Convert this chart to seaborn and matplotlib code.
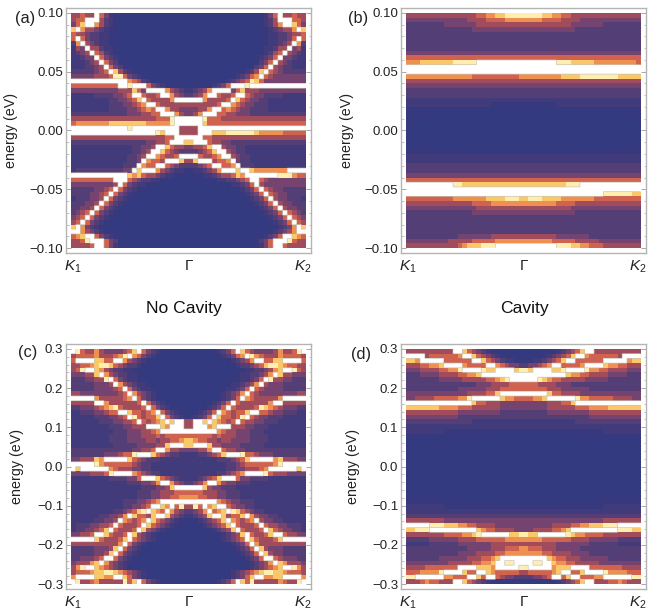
# Band structure maps, cell levels (0 dark .. 9 pale, "." = clipped white)
import numpy as np
import seaborn as sns
import matplotlib.pyplot as plt
from matplotlib.colors import LinearSegmentedColormap

# rows run top to bottom; short rows hold the left half (rest is mirrored), long rows are the whole width
panel_a = [
    "55655.6421", "566...5321", "468..75321", "8.75543211", "65543322110", "6.64332211", "37.543221", "254.553221",
    "2345.65321", "22344.6432", "222345.6431", "2223345.6431", "33333456.85321",
    "4444455569964321000000000" + "000000000" + "1234" + "67." + "654444444",
    "............7653210000000" + "0000000" + "123456" + "986" + "444444444",
    "6666666666..9...643210000" + "0000" + "12346" + "..." + "9" + "............",
    "4444444444555864....75432", "2222233334456..6556..7543", "22222222334456" + "8." + "65555" + "7...",
    "222222223334456" + "7.." + "6555555", "2222222233334456" + "76" + ".." + "75544",
    "3333333333334445" + "566" + "..." + "754", "555555555555555555666" + "9...",
    "677777778888888877777" + "9" + "......" + "8" + "6" + "66666666666666666666",
    "............" + "9" + "........." + "." + "5555" + ".......................",
    ".................." + "98" + "..." + "5555" + "..." + "88899999987777766666",
    "55555555555555555555" + "66" + "...", "33333333333333334455" + "6...8",
    "222222222222233445" + ".." + "86554", "22222222222223345" + ".." + "865433", "2222222222223345" + ".." + "76556..",
    "222222222222334" + "." + "7665" + "..." + "85", "22222222222333" + "." + "766.." + "65433",
    "2333333333344.8...7543221" + "12234" + "57" + "..." + "8.." + "8" + "7777777" + "....",
    "............878" + "6554322110" + "0112234556" + "87" + "......." + "999" + "766",
    "666666666..." + "6543322110000" + "0000112233456" + ".." + "6" + "544444444",
    "4444444445." + "64322110", "333334456." + "6432110", "33334456." + "643211", "2333445." + "64321",
    "333445." + "64321", "33445." + "64321", "3456." + "64321", "456." + "64321", "56." + "64321",
    "8.74321", "..754321", "678..6432110", "5569...6431", "55556..6421",
]
panel_b = [
    "5555555555555556677889999", "4444444444444555566667777", "3333333344444445555555555",
    "3333333333333344444444444", "3333333333333333333333333", "3333333333333333333333333",
    "3333333333333333333333333", "3333333333333333333333333", "4444444444444444444444444",
    "6666666666666666666666666",
    "777888888899999" + "................." + "999888887777777776",
    "." * 50, "." * 50,
    "77777777777777666666666677777777788889999999988888",
    "5555555555555555555555555", "4444444444444444444444444", "3333333333333333333333333",
    "3333333333333333333333333", "2222222222222222222222222", "2222222222222222221111111",
    "1111111111111000000000000", "1111110000000000000000000", "1", "0", "0", "0", "0", "0",
    "1111110000000000000000000", "1111111111111000000000000", "2222222222222222222222222",
    "2222222222222222222222222", "3333333333333333333333333", "3333333333333333333333333",
    "4444444444444444444444444", "6666666666666666666666666",
    ".........." + "998888888888888888888888999" + ".............",
    "." * 50,
    "." * 42 + "99999988",
    "6666666666777777788889998", "5555555555555566667777777", "4444444444444445555555555",
    "3333333333333344444444444", "3333333333333333333333333", "3333333333333333333333333",
    "3333333333333333333333333", "3333333333333333333333333", "3333333333344444445555555",
    "4444444445555566666777777",
    "555555555556" + "7888999" + "............." + "999887766655555555",
]
panel_c = [
    ".96557544445" + "68." + "64321", "566667555679." + "764321", "6....8866..754321",
    "55667" + "8998" + "6543321", "569..87" + "5433221", "444558." + "754332211", "33344559." + "64322110",
    "333334445." + "754322110", "33333444456." + "64322110", "554444444456." + "754321",
    "....." + "75555567." + "64321", "55555.." + "7" + "5555556." + "64321", "3344456789" + "655556." + "64321",
    "2233344566.." + "8" + "665" + "67." + "643211", "222223334456." + "9" + "6566" + "8." + "64321",
    "22222233344556." + "65678." + "8..5", "2222222233344555..." + "87" + "...5", "2222222223334445567" + "......",
    "2222222233334445556" + "566666", "222222223333444455" + "4556678", "22222222233333444455" + "8...8",
    "333333333333344556" + ".." + "75544", "3333333444566" + "9...8" + "6543322", "445558" + "7....." + "8" + "654333222222",
    "....." + "976666" + "66543322222222", ".8......" + "76" + "555443322222222", "44445556" + "9...." + "7" + "65433222222",
    "22222222333344" + "6..." + "8" + "654322", "222222222222333445" + "7.." + "7543", "222222222222222333445" + "8...",
    "2222222222222233344" + "555666", "2222222222222233344" + "556677", "2222222222233344567" + "......",
    "22222222222334456" + ".." + "87." + "695", "22222222233456" + "89." + "876." + "7543",
    "22222233445" + "7.8" + "665" + "8.." + "8" + "5432", "2222233445." + "76567." + "8" + "6543211",
    "233344556." + "6555" + "6." + "8" + "65432110", "2334456" + "8." + "65556." + "8" + "543211",
    "44556.." + "8" + "6556." + "8" + "54321", "....." + "8" + "65556" + "8." + "654321",
    "5555555555" + "7." + "64321", "3333344458." + "64321", "333334458." + "64321", "3344456.." + "64321",
    "455578." + "754321", "579..8" + "7654321", "566678" + "8998" + "76543" + "21", "7....8877..8" + "64321",
    ".95567" + "55555" + "968." + "64321",
]
panel_d = [
    "5555555555.." + "865" + "4321100000", "....5666666" + "7..8" + "6543211", "887....." + "666666..8" + "65432211",
    "55566778" + "...." + "76666.." + "7" + "65443", "44455556677" + "9....988....89", "3334444555566778" + ".........",
    "3333333444445555566" + "789...", "3333333333333334445555666", "3333333333344444455566666",
    "4444444444444555566" + "8.....", "4455556666677" + "9......8" + "7766", ".............." + "8" + "6655544444",
    "8888888777766655555544444", "5555555555544444444433333", "4444444444433333333333333",
    "3333333333333322222222222", "2222222222222222222222222", "2222222211111111111111111", "1111111111111111100000000",
    "0", "0", "0", "0", "0", "0", "0", "0", "0", "0", "0", "0",
    "1111111111", "1111111111111111100000000", "2222222211111111111111111",
    "2222222222222222222222222", "3333333333333333333333333", "5555555544444444444444444",
    "....." + "99988877665555444444", "88999" + ".........." + "8" + "766555544", "5555555566667789" + "......889",
    "3333344444455556666667777", "2222233333344444445555555", "3333333333333444445556667",
    "3333333333344445555667777", "333333344444455566" + "78.....", "4444444445555566778" + "..99..",
    "55556666666...." + "8" + "887" + "....." + "9", "6667777" + "9...." + "8" + "66.." + "87" + "666665",
    "99......" + "77666..8" + "6.." + "654433", "5556766555.." + "865" + "4321100000",
]

energy_max = [0.10, 0.10, 0.30, 0.30]
major_ticks = [[-0.10, -0.05, 0.00, 0.05, 0.10]] * 2 + [[-0.3, -0.2, -0.1, 0.0, 0.1, 0.2, 0.3]] * 2
tick_text = [["\u22120.10", "\u22120.05", "0.00", "0.05", "0.10"]] * 2 + [["\u22120.3", "\u22120.2", "\u22120.1", "0.0", "0.1", "0.2", "0.3"]] * 2
minor_step = [0.01, 0.01, 0.02, 0.02]
letters = ["(a)", "(b)", "(c)", "(d)"]
k_labels = ["$K_1$", "\u0393", "$K_2$"]
level_colors = ["#333a80", "#37397e", "#423b7b", "#533e76", "#754370", "#a04c5c", "#cf6350", "#ee8f4e", "#fbc868", "#feeeb0"]

W, H = 651, 610
N = 50


def to_grid(rows):
    out = []
    for r in rows:
        if len(r) < 40:
            half = r[:25].ljust(25, "0")
            r = half + half[::-1]
        r = r[:50].ljust(50, "0")
        out.append([np.nan if c == "." else float(c) for c in r])
    return np.array(out[:N])


sns.set_style("white")
plt.rcParams["font.family"] = ["Liberation Sans", "DejaVu Sans"]
plt.rcParams["mathtext.fontset"] = "custom"
plt.rcParams["mathtext.rm"] = "Liberation Sans"
plt.rcParams["mathtext.it"] = "Liberation Sans:italic"

cmap = LinearSegmentedColormap.from_list("sunset", level_colors)
fig = plt.figure(figsize=(W / 100, H / 100), dpi=100)

frames = [(66, 8), (401, 8), (66, 344), (401, 344)]
label_x = [-0.196, -0.192, -0.171, -0.167]
letter_pos = [(15, 18), (348, 19), (18, 353), (351, 355)]
panels = [panel_a, panel_b, panel_c, panel_d]

for i, rows in enumerate(panels):
    x0, y0 = frames[i]
    ax = fig.add_axes([x0 / W, 1 - (y0 + 245) / H, 245 / W, 245 / H])
    grid = to_grid(rows)
    sns.heatmap(grid, ax=ax, cmap=cmap, vmin=0, vmax=9, cbar=False, xticklabels=False, yticklabels=False)

    # thin grey edge round the clipped white cells
    fine = np.kron(np.isnan(grid).astype(float), np.ones((8, 8)))
    xs = (np.arange(N * 8) + 0.5) / 8
    ax.contour(xs, xs, fine, levels=[0.5], colors="#cbc6b8", linewidths=0.5)

    ax.set_xlim(-1.06, N + 1.06)
    ax.set_ylim(N + 1.06, -1.06)

    # energy to row position
    emax = energy_max[i]
    to_row = lambda e: (emax - e) / (2 * emax) * N
    ax.set_yticks([to_row(e) for e in major_ticks[i]])
    ax.set_yticklabels(tick_text[i], fontsize=9.5, color="#222222")
    n_minor = int(round(2 * emax / minor_step[i]))
    ax.set_yticks([to_row(-emax + j * minor_step[i]) for j in range(n_minor + 1)], minor=True)
    ax.set_xticks([0.3, N / 2, N - 0.6])
    ax.set_xticklabels(k_labels, fontsize=11, color="#222222")
    ax.tick_params(axis="y", which="major", direction="in", length=3.5, width=0.7, color="#a8a8a8",
                   left=True, right=True, pad=2)
    ax.tick_params(axis="y", which="minor", direction="in", length=1.8, width=0.6, color="#b8b8b8", left=True, right=True)
    ax.tick_params(axis="x", length=0, pad=4)
    for s in ax.spines.values():
        s.set_visible(True)
        s.set_color("#b4b4b4")
        s.set_linewidth(1.0)
    ax.set_ylabel("energy (eV)", fontsize=10.3, color="#222222")
    ax.yaxis.set_label_coords(label_x[i], 0.5)
    fig.text(letter_pos[i][0] / W, 1 - letter_pos[i][1] / H, letters[i], fontsize=11.8, color="#222222", va="center")

fig.text(184 / W, 1 - 309 / H, "No Cavity", fontsize=12.6, color="#111111", ha="center", va="center")
fig.text(524 / W, 1 - 308 / H, "Cavity", fontsize=12.6, color="#111111", ha="center", va="center")

fig.savefig("out.png", dpi=100)
